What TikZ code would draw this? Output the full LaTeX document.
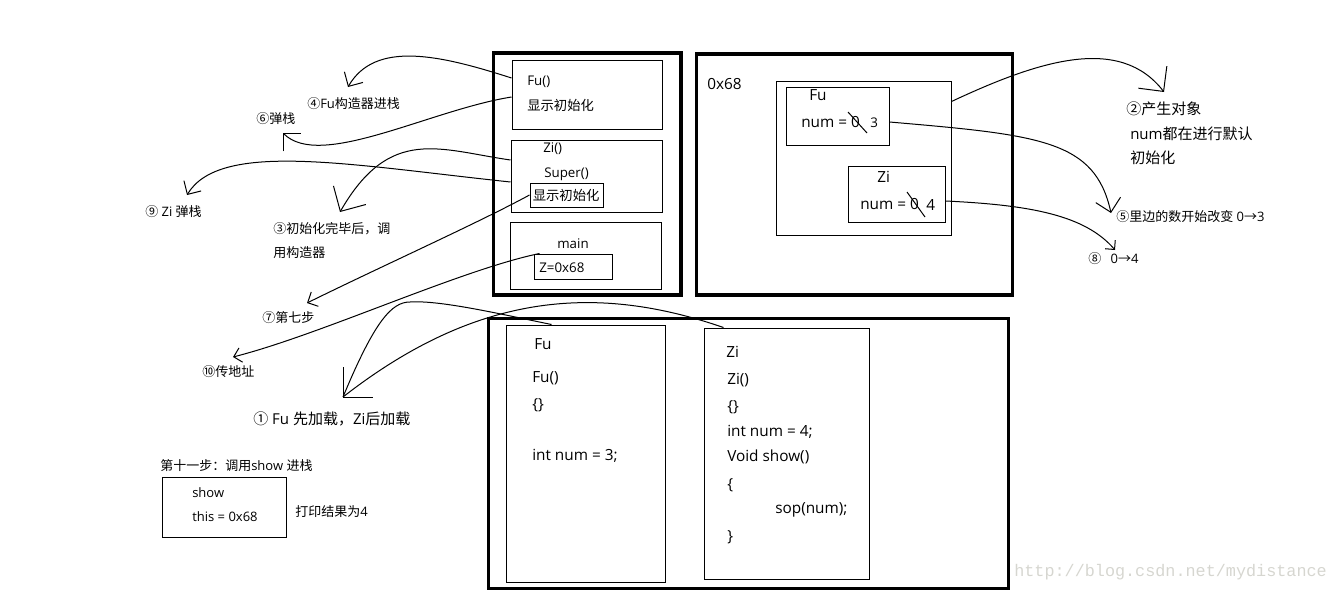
\documentclass[tikz,border=0pt]{standalone}
\usepackage{fontspec}
\setmainfont{Open Sans}
\newfontfamily\cjk{Noto Sans CJK SC}
\newfontfamily\wmfont{Liberation Mono}
\usetikzlibrary{arrows.meta,fit,calc}
\newcommand\zht[1]{{\cjk #1}}
\definecolor{wmgray}{RGB}{214,214,208}
\begin{document}
\begin{tikzpicture}[x=0.75pt,y=-0.75pt,
  con/.style={line width=0.75pt},
  thickbox/.style={draw, line width=2.4pt, inner sep=0pt},
  thinbox/.style={draw, line width=0.75pt, inner sep=0pt},
  lbl/.style={anchor=west, inner sep=0pt, font=\fontsize{9.75}{11}\selectfont},
  biglbl/.style={anchor=west, inner sep=0pt, font=\fontsize{11.25}{13}\selectfont},
  stk/.style={anchor=west, inner sep=0pt, font=\fontsize{10}{12}\selectfont},
  codetxt/.style={anchor=west, inner sep=0pt, font=\fontsize{11.5}{13}\selectfont},
  barb/.style={con, -{Straight Barb[length=5pt,width=10pt,scale length=#1,scale width=#1]}},
]
\useasboundingbox (0,0) rectangle (1337,592);

% ---------- stack ----------
\node[thickbox, fit={(493.5,53) (681,295)}] (stack) {};
\node[thinbox, fit={(512,61) (662,129)}] (fuframe) {};
\node[thinbox, fit={(511,140) (662,212)}] (ziframe) {};
\node[thinbox, fit={(530,183) (603,207)}] (dz) {};
\node[thinbox, fit={(510,222) (661,289)}] (mainframe) {};
\node[thinbox, fit={(534,254) (612,279)}] (zbox) {};
\node[stk] (tfu) at (527,82) {Fu()};
\node[stk] (tfuinit) at (527,105.5) {\zht{显示初始化}};
\node[stk] (tzi) at (543,149) {Zi()};
\node[stk] (tsuper) at (544,174.5) {Super()};
\node[stk] (tziinit) at (532.5,195) {\zht{显示初始化}};
\node[stk, anchor=center] (tmain) at (573,244) {main};
\node[stk] (tz) at (539,268) {Z=0x68};

% ---------- heap ----------
\node[thickbox, fit={(696.5,54) (1012.5,295)}] (heap) {};
\node[codetxt] (taddr) at (707,84) {0x68};
\node[thinbox, fit={(776,81) (951,235)}] (obj) {};
\node[thinbox, fit={(786,87) (889,145)}] (hfu) {};
\node[thinbox, fit={(848,166) (945,222)}] (hzi) {};
\node[codetxt] (thfu) at (809,95) {Fu};
\node[codetxt] (thfunum) at (801,122) {num = 0};
\node[codetxt, font=\fontsize{10}{12}\selectfont] (thfu3) at (870,122.5) {3};
\node[codetxt] (thzi) at (877,177) {Zi};
\node[codetxt] (thzinum) at (860,204.5) {num = 0};
\node[codetxt] (thzi4) at (926,204.5) {4};
\draw[con] (848,112) -- (867,133);
\draw[con] (907,192) -- (925,217);

% ---------- method area ----------
\node[thickbox, fit={(488.5,318.5) (1008.5,588.5)}] (area) {};
\node[thinbox, fit={(506,325) (665,582)}] (cfu) {};
\node[thinbox, fit={(704,328) (869,579)}] (czi) {};
\node[codetxt] (c1) at (534,344) {Fu};
\node[codetxt] (c2) at (532,378.5) {Fu()};
\node[codetxt] (c3) at (532,405) {\{\}};
\node[codetxt] (c4) at (532,455.5) {int num = 3;};
\node[codetxt] (z1) at (726,351.5) {Zi};
\node[codetxt] (z2) at (727,380) {Zi()};
\node[codetxt] (z3) at (727,407) {\{\}};
\node[codetxt] (z4) at (727,431.5) {int num = 4;};
\node[codetxt] (z5) at (727,457) {Void show()};
\node[codetxt] (z6) at (727,485) {\{};
\node[codetxt] (z7) at (775,510) {sop(num);};
\node[codetxt] (z8) at (727,537) {\}};

% ---------- left labels ----------
\node[lbl] (l4) at (307,104) {\zht{④}Fu\zht{构造器进栈}};
\node[lbl] (l6) at (256,119) {\zht{⑥弹栈}};
\node[lbl] (l9) at (145,212) {\zht{⑨} Zi \zht{弹栈}};
\node[lbl] (l3a) at (273,229) {\zht{③初始化完毕后，调}};
\node[lbl] (l3b) at (273,253) {\zht{用构造器}};
\node[lbl] (l7) at (262,318) {\zht{⑦第七步}};
\node[lbl] (l10) at (202,372) {\zht{⑩传地址}};
\node[biglbl] (l1) at (253,419) {\zht{①} Fu \zht{先加载，}Zi\zht{后加载}};
\node[lbl] (l11) at (160,466) {\zht{第十一步：调用}show \zht{进栈}};
\node[thinbox, fit={(162,477) (286,537)}] (showbox) {};
\node[lbl] (ts1) at (192,493) {show};
\node[lbl] (ts2) at (192,517) {this = 0x68};
\node[lbl] (tprint) at (295,512) {\zht{打印结果为}4};

% ---------- right labels ----------
\node[biglbl] (r2a) at (1126,109) {\zht{②产生对象}};
\node[biglbl] (r2b) at (1130,134) {num\zht{都在进行默认}};
\node[biglbl] (r2c) at (1130,158) {\zht{初始化}};
\node[lbl] (r5) at (1116,217) {\zht{⑤里边的数开始改变} 0\zht{→}3};
\node[lbl] (r8) at (1088,259) {\zht{⑧}\hspace{7pt}0\zht{→}4};

% ---------- arrow tips ----------
\coordinate (t4) at (348,87);
\coordinate (t6) at (283,133);
\coordinate (t9) at (187,195);
\coordinate (t3) at (340,212);
\coordinate (t7) at (307,303);
\coordinate (t10) at (233,357);
\coordinate (t1) at (343,397);
\coordinate (t2) at (1164,92);
\coordinate (t5) at (1111,213);
\coordinate (t8) at (1115,250);

% ---------- connectors ----------
\draw[barb=1.6] ($(fuframe.west)+(0,-17)$) .. controls (440,55) and (375,40) .. (t4);
\draw[barb=1.9] ($(fuframe.west)+(0,2)$) .. controls (430,110) and (320,170) .. (t6);
\draw[barb=1.5] ($(ziframe.west)+(0,6)$) .. controls (350,165) and (220,140) .. (t9);
\draw[barb=2.8] ($(ziframe.west)+(0,-16)$) .. controls (440,150) and (390,125) .. (t3);
\draw[barb=1.2] (dz.west) .. controls (480,222) and (380,267) .. (t7);
\draw[barb=1.1] ($(zbox.north west)+(6,0)$) .. controls (460,270) and (320,335) .. (t10);
\draw[con] ($(cfu.north west)+(46,0)$) .. controls (500,314) and (440,300) .. (410,302)
  .. controls (392,302) and (375,320) .. (t1);
\draw[con] ($(czi.north west)+(20,0)$) .. controls (600,285) and (480,290) .. (t1);
\draw[con] (t1) -- ++(0,-30);
\draw[con] (t1) -- ++(30,0);
\draw[barb=2.7] ($(obj.north east)+(0,21)$) .. controls (1040,60) and (1120,35) .. (t2);
\draw[barb=1.9] ($(hfu.east)+(0,6)$) .. controls (1040,135) and (1095,140) .. (t5);
\draw[barb=1.0] ($(hzi.east)+(0,7)$) .. controls (1030,205) and (1085,215) .. (t8);

% ---------- watermark ----------
\node[anchor=west, inner sep=0pt, text=wmgray, font=\wmfont\fontsize{12.6}{14}\selectfont] (wm) at (1014,572) {http://blog.csdn.net/mydistance};
\end{tikzpicture}
\end{document}
